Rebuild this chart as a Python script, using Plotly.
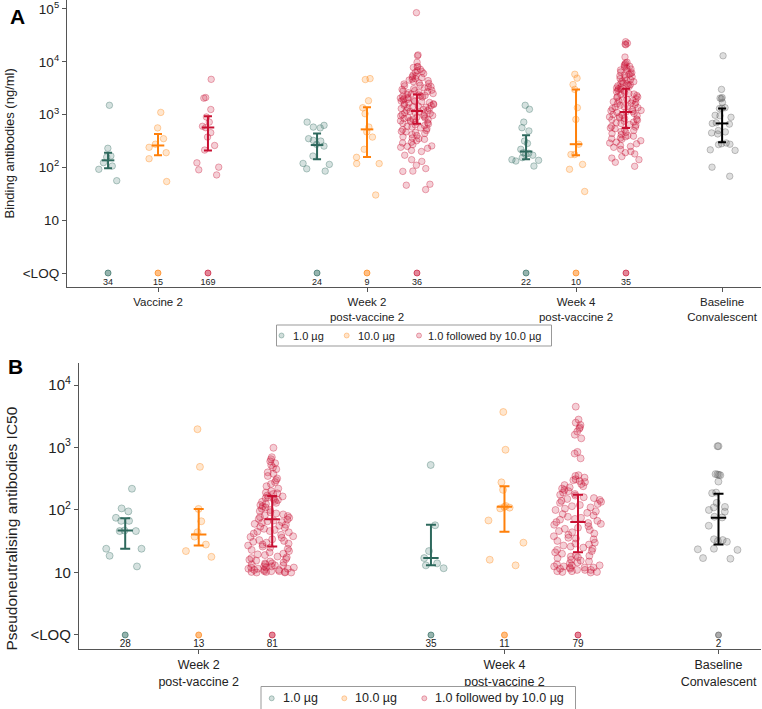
import plotly.graph_objects as go

FONT = "Liberation Sans, Arial, Helvetica, sans-serif"

# ---------------- labels ----------------
group_names = ["1.0 µg", "10.0 µg", "1.0 followed by 10.0 µg"]
a_tick_labels = ["Vaccine 2", "Week 2<br>post-vaccine 2", "Week 4<br>post-vaccine 2", "Baseline<br>Convalescent"]
b_tick_labels = ["Week 2<br>post-vaccine 2", "Week 4<br>post-vaccine 2", "Baseline<br>Convalescent"]
a_y_ticktext = ["<LOQ", "10", "10<sup>2</sup>", "10<sup>3</sup>", "10<sup>4</sup>", "10<sup>5</sup>"]
b_y_ticktext = ["<LOQ", "10", "10<sup>2</sup>", "10<sup>3</sup>", "10<sup>4</sup>"]
a_y_tickvals = [1, 10, 100, 1000, 10000, 100000]
b_y_tickvals = [1, 10, 100, 1000, 10000]

# ---------------- Panel A: binding antibodies (ng/ml) ----------------
a_v2_low = [1500, 230, 165, 157, 123, 106, 92, 56]
a_v2_high = [1100, 560, 350, 275, 240, 190, 146, 54]
a_v2_boost = [4650, 2100, 2050, 1250, 900, 720, 600, 565, 455, 375, 260, 213, 122, 101, 90, 72]

a_w2_low = [720, 625, 580, 560, 350, 325, 315, 273, 253, 164, 119, 114, 94, 85]
a_w2_high = [4800, 4600, 1830, 1350, 1040, 580, 470, 375, 220, 155, 118, 118, 30]
a_w2_boost = [85000, 13500, 13000, 9800, 8200, 8000, 7800, 7200, 6800, 6500, 6300, 6000, 5600, 5400,
              5200, 5000, 4800, 4700, 4500, 4400, 4200, 4000, 3900, 3800, 3600, 3500, 3400, 3300,
              3200, 3100, 3000, 2900, 2850, 2800, 2700, 2650, 2600, 2500, 2450, 2400, 2350, 2300,
              2250, 2200, 2150, 2100, 2050, 2000, 1950, 1900, 1850, 1800, 1780, 1750, 1700, 1650,
              1600, 1580, 1550, 1500, 1480, 1450, 1400, 1380, 1350, 1300, 1280, 1250, 1200, 1180,
              1150, 1120, 1100, 1080, 1050, 1000, 980, 960, 940, 920, 900, 880, 860, 840, 820, 800,
              780, 760, 740, 720, 700, 680, 660, 640, 620, 600, 580, 560, 540, 520, 500, 480, 470,
              460, 440, 420, 400, 380, 360, 350, 340, 320, 300, 290, 270, 255, 250, 240, 230, 210,
              200, 170, 140, 130, 110, 95, 85, 84, 48, 46, 38]

a_w4_low = [1500, 1260, 720, 565, 490, 315, 285, 220, 190, 185, 175, 170, 153, 140, 136, 132, 106]
a_w4_high = [5800, 4900, 3700, 3000, 1350, 810, 275, 175, 175, 114, 92, 35]
a_w4_boost = [24000, 22500, 21500, 21000, 12300, 9800, 9500, 9000, 8600, 8200, 8000, 7600, 7300,
              7000, 6700, 6400, 6200, 6000, 5800, 5600, 5400, 5200, 5000, 4800, 4600, 4500, 4300,
              4200, 4000, 3900, 3800, 3700, 3600, 3500, 3400, 3300, 3200, 3100, 3000, 2900, 2800,
              2700, 2600, 2500, 2450, 2400, 2300, 2200, 2150, 2100, 2000, 1950, 1900, 1850, 1800,
              1750, 1700, 1650, 1600, 1550, 1500, 1450, 1400, 1380, 1350, 1300, 1250, 1200, 1180,
              1150, 1120, 1100, 1050, 1000, 980, 950, 920, 900, 870, 850, 820, 800, 780, 750, 720,
              700, 680, 650, 630, 600, 580, 560, 540, 520, 500, 480, 460, 440, 420, 400, 390, 380,
              360, 350, 340, 320, 300, 290, 280, 260, 250, 240, 220, 200, 190, 180, 160, 150, 140,
              125, 105]

a_baseline = [13000, 3000, 2100, 2050, 2000, 1700, 1350, 1320, 1300, 970, 950, 890, 700, 680, 660,
              500, 470, 450, 430, 290, 280, 275, 270, 215, 210, 101, 68]

# summary bars (median and interval) per group across Vaccine 2, Week 2, Week 4
a_low_med = [136, 265, 200]
a_low_lo = [96, 142, 142]
a_low_hi = [190, 440, 405]
a_high_med = [260, 525, 275]
a_high_lo = [170, 157, 170]
a_high_hi = [430, 1370, 3000]
a_boost_med = [570, 1170, 1120]
a_boost_lo = [210, 670, 560]
a_boost_hi = [930, 2400, 3100]
a_base_med = [680]
a_base_lo = [300]
a_base_hi = [1300]

# number of samples below the limit of quantification
a_loq_low = [34, 24, 22]
a_loq_high = [15, 9, 10]
a_loq_boost = [169, 36, 35]

# ---------------- Panel B: pseudoneutralising antibodies IC50 ----------------
b_w2_low = [219, 106, 95, 75, 67, 67, 47, 46, 46, 24, 24, 18.5, 12.5]
b_w2_high = [1960, 490, 104, 66, 44, 37.5, 28, 22, 17.8]
b_w2_boost = [990, 700, 650, 600, 560, 520, 480, 450, 400, 380, 350, 320, 300, 280, 260, 240, 220,
              200, 190, 185, 180, 170, 165, 160, 155, 150, 145, 140, 135, 130, 125, 120, 115, 110,
              105, 100, 96, 92, 88, 85, 82, 80, 77, 75, 72, 70, 68, 66, 64, 62, 60, 58, 56, 54, 52,
              50, 48, 46, 45, 44, 42, 40, 38, 37, 36, 34, 33, 32, 31, 30, 29, 28, 27, 26, 25, 24,
              23, 22, 21, 20, 19.5, 19, 18, 17.5, 17, 16.5, 16, 15.5, 15, 14.5, 14, 14, 13.5, 13.5,
              13, 13, 12.5, 12.5, 12, 12, 12, 11.5, 11.5, 11.5, 11, 11, 11, 10.5, 10.5, 10.5, 10.2,
              10.2, 10.2, 10, 10, 10]

b_w4_low = [525, 57, 22, 17, 14, 13, 11.7]
b_w4_high = [3700, 920, 277, 210, 116, 112, 109, 106, 68, 30, 16, 13]
b_w4_boost = [4500, 2800, 2500, 2300, 2100, 2000, 1800, 1600, 1400, 850, 800, 670, 360, 350, 330,
              310, 300, 290, 280, 260, 250, 240, 230, 220, 210, 200, 190, 180, 175, 170, 160, 155,
              150, 145, 140, 135, 130, 125, 120, 115, 110, 105, 100, 95, 90, 86, 82, 78, 75, 72,
              70, 67, 64, 62, 60, 58, 55, 52, 50, 48, 46, 44, 42, 40, 38, 36, 35, 34, 32, 30, 29,
              28, 27, 26, 25, 24, 23, 22, 21, 20, 19, 18.5, 18, 17.5, 17, 16, 15.5, 15, 14.5, 14,
              13.5, 13, 13, 12.5, 12.5, 12, 12, 12, 11.5, 11.5, 11, 11, 11, 10.5, 10.5, 10.2, 10.2,
              10]

b_baseline = [1050, 1050, 375, 370, 365, 360, 285, 190, 186, 130, 112, 110, 100, 94, 78, 76, 56,
              34, 33, 32, 31, 24, 23.5, 23, 17, 16.6]

b_low_med = [47, 17]
b_low_lo = [24, 13]
b_low_hi = [74, 58]
b_high_med = [40.5, 113]
b_high_lo = [27, 45]
b_high_hi = [104, 240]
b_boost_med = [71, 64]
b_boost_lo = [26, 21]
b_boost_hi = [168, 175]
b_base_med = [75]
b_base_lo = [28]
b_base_hi = [182]

b_loq_low = [28, 35]
b_loq_high = [13, 11]
b_loq_boost = [81, 79]
b_loq_base = [2]

# ---------------- styles / layout geometry ----------------
W, H = 762, 709
C_LOW = (46, 105, 93)
C_HIGH = (255, 128, 10)
C_BOOST = (200, 16, 50)
C_BASE = (0, 0, 0)
C_BASE_PT = (90, 90, 90)


def rgba(c, a):
    return "rgba(%d,%d,%d,%.2f)" % (c[0], c[1], c[2], a)


# Panel A positions (axis units)
A_CENTERS = [1, 2, 3]
A_BASE = 3.699
A_OFF = 0.239
A_WIDTH = 0.16
# Panel B positions
B_CENTERS = [1, 2]
B_BASE = 2.70
B_OFF = 0.2404
B_WIDTH = 0.16

fig = go.Figure()


def add_points(vals, xpos, col, xa, ya, width, size):
    fig.add_trace(go.Box(
        y=vals, x=[xpos] * len(vals), xaxis=xa, yaxis=ya,
        boxpoints="all", jitter=1, pointpos=0, width=width,
        fillcolor="rgba(0,0,0,0)", line=dict(width=0, color="rgba(0,0,0,0)"),
        marker=dict(size=size, color=rgba(col, 0.2), line=dict(width=1, color=rgba(col, 0.34))),
        showlegend=False, hoverinfo="y"))


def add_bars(xs, med, lo, hi, col, xa, ya, capw, msize):
    fig.add_trace(go.Scatter(
        x=xs, y=med, xaxis=xa, yaxis=ya, mode="markers",
        marker=dict(symbol="line-ew", size=msize, color=rgba(col, 1), line=dict(width=2, color=rgba(col, 1))),
        error_y=dict(type="data", symmetric=False,
                     array=[h - m for h, m in zip(hi, med)],
                     arrayminus=[m - l for m, l in zip(med, lo)],
                     color=rgba(col, 1), thickness=2, width=capw),
        showlegend=False, hoverinfo="skip"))


def add_loq(xs, counts, col, xa, ya, fsize):
    fig.add_trace(go.Scatter(
        x=xs, y=[1] * len(xs), xaxis=xa, yaxis=ya, mode="markers+text",
        text=[str(c) for c in counts], textposition="bottom center",
        textfont=dict(size=fsize, color="#222", family=FONT),
        marker=dict(size=6, color=rgba(col, 0.5), line=dict(width=1, color=rgba(col, 0.65))),
        showlegend=False, hoverinfo="skip"))


# ---- Panel A ----
a_low_x = [c - A_OFF for c in A_CENTERS]
a_high_x = list(A_CENTERS)
a_boost_x = [c + A_OFF for c in A_CENTERS]
for vals, x in zip([a_v2_low, a_w2_low, a_w4_low], a_low_x):
    add_points(vals, x, C_LOW, "x", "y", A_WIDTH, 6.5)
for vals, x in zip([a_v2_high, a_w2_high, a_w4_high], a_high_x):
    add_points(vals, x, C_HIGH, "x", "y", A_WIDTH, 6.5)
for vals, x in zip([a_v2_boost, a_w2_boost, a_w4_boost], a_boost_x):
    add_points(vals, x, C_BOOST, "x", "y", A_WIDTH, 6.5)
add_points(a_baseline, A_BASE, C_BASE_PT, "x", "y", A_WIDTH, 6.5)

add_bars(a_low_x, a_low_med, a_low_lo, a_low_hi, C_LOW, "x", "y", 4, 9)
add_bars(a_high_x, a_high_med, a_high_lo, a_high_hi, C_HIGH, "x", "y", 4, 9)
add_bars(a_boost_x, a_boost_med, a_boost_lo, a_boost_hi, C_BOOST, "x", "y", 4, 9)
add_bars([A_BASE], a_base_med, a_base_lo, a_base_hi, C_BASE, "x", "y", 4, 9)

add_loq(a_low_x, a_loq_low, C_LOW, "x", "y", 9)
add_loq(a_high_x, a_loq_high, C_HIGH, "x", "y", 9)
add_loq(a_boost_x, a_loq_boost, C_BOOST, "x", "y", 9)

# ---- Panel B ----
b_low_x = [c - B_OFF for c in B_CENTERS]
b_high_x = list(B_CENTERS)
b_boost_x = [c + B_OFF for c in B_CENTERS]
for vals, x in zip([b_w2_low, b_w4_low], b_low_x):
    add_points(vals, x, C_LOW, "x2", "y2", B_WIDTH, 7)
for vals, x in zip([b_w2_high, b_w4_high], b_high_x):
    add_points(vals, x, C_HIGH, "x2", "y2", B_WIDTH, 7)
for vals, x in zip([b_w2_boost, b_w4_boost], b_boost_x):
    add_points(vals, x, C_BOOST, "x2", "y2", B_WIDTH, 7)
add_points(b_baseline, B_BASE, C_BASE_PT, "x2", "y2", B_WIDTH, 7)

add_bars(b_low_x, b_low_med, b_low_lo, b_low_hi, C_LOW, "x2", "y2", 5, 11)
add_bars(b_high_x, b_high_med, b_high_lo, b_high_hi, C_HIGH, "x2", "y2", 5, 11)
add_bars(b_boost_x, b_boost_med, b_boost_lo, b_boost_hi, C_BOOST, "x2", "y2", 5, 11)
add_bars([B_BASE], b_base_med, b_base_lo, b_base_hi, C_BASE, "x2", "y2", 5, 11)

add_loq(b_low_x, b_loq_low, C_LOW, "x2", "y2", 10)
add_loq(b_high_x, b_loq_high, C_HIGH, "x2", "y2", 10)
add_loq(b_boost_x, b_loq_boost, C_BOOST, "x2", "y2", 10)
add_loq([B_BASE], b_loq_base, C_BASE_PT, "x2", "y2", 10)

# ---- legends (drawn as boxed keys, pixel geometry) ----
shapes = []
annotations = []


def add_key(box, circle_x, text_x, yc, fsize, dia):
    x0, x1, y0, y1 = box
    shapes.append(dict(type="rect", xref="paper", yref="paper", x0=x0 / W, x1=x1 / W,
                       y0=1 - y1 / H, y1=1 - y0 / H, line=dict(color="#999", width=1),
                       fillcolor="white", layer="above"))
    for name, col, cx, tx in zip(group_names, [C_LOW, C_HIGH, C_BOOST], circle_x, text_x):
        r = dia / 2
        shapes.append(dict(type="circle", xref="paper", yref="paper",
                           x0=(cx - r) / W, x1=(cx + r) / W, y0=1 - (yc + r) / H, y1=1 - (yc - r) / H,
                           fillcolor=rgba(col, 0.22), line=dict(color=rgba(col, 0.35), width=1),
                           layer="above"))
        annotations.append(dict(text=name, x=tx / W, y=1 - yc / H, xref="paper", yref="paper",
                                showarrow=False, xanchor="left", yanchor="middle",
                                font=dict(size=fsize, color="#222"), borderpad=0))


add_key((276.5, 551.5, 325, 346), [281.5, 346.7, 419], [292, 357, 427], 335.5, 11, 5)
add_key((261, 575.5, 686.5, 712), [271.7, 344.3, 424.3], [282, 354, 434], 698.3, 12.5, 5)

annotations += [
    dict(text="<b>A</b>", x=17.5 / W, y=1 - 17 / H, xref="paper", yref="paper", showarrow=False,
         xanchor="center", yanchor="middle", font=dict(size=21, color="black")),
    dict(text="<b>B</b>", x=15 / W, y=1 - 366 / H, xref="paper", yref="paper", showarrow=False,
         xanchor="center", yanchor="middle", font=dict(size=21, color="black")),
    dict(text="Binding antibodies (ng/ml)", x=8.5 / W, y=1 - 144 / H, xref="paper", yref="paper",
         showarrow=False, textangle=-90, xanchor="center", yanchor="middle", font=dict(size=13)),
    dict(text="Pseudoneutralising antibodies IC50", x=10.5 / W, y=1 - 529 / H, xref="paper",
         yref="paper", showarrow=False, textangle=-90, xanchor="center", yanchor="middle",
         font=dict(size=15.5)),
]

axis_common = dict(showline=True, linecolor="#555", linewidth=1.3, showgrid=False, zeroline=False,
                   ticks="outside", ticklen=4, tickcolor="#555", tickwidth=1, automargin=False,
                   ticklabeloverflow="allow")

fig.update_layout(
    width=W, height=H, margin=dict(l=0, r=0, t=0, b=0),
    paper_bgcolor="white", plot_bgcolor="white",
    font=dict(family=FONT, color="#222"),
    boxmode="overlay", showlegend=False,
    xaxis=dict(domain=[67 / W, 761 / W], range=[0.5646, 3.885], anchor="y",
               tickmode="array", tickvals=A_CENTERS + [A_BASE], ticktext=a_tick_labels,
               tickfont=dict(size=11.5), **axis_common),
    yaxis=dict(domain=[1 - 287 / H, 1], type="log", range=[-0.265, 5.17], anchor="x",
               tickmode="array", tickvals=a_y_tickvals, ticktext=a_y_ticktext,
               tickfont=dict(size=13.5), **axis_common),
    xaxis2=dict(domain=[79 / W, 761 / W], range=[0.6085, 2.839], anchor="y2",
                tickmode="array", tickvals=B_CENTERS + [B_BASE], ticktext=b_tick_labels,
                tickfont=dict(size=12.5), **axis_common),
    yaxis2=dict(domain=[1 - 649.3 / H, 1 - 363 / H], type="log", range=[-0.229, 4.352], anchor="x2",
                tickmode="array", tickvals=b_y_tickvals, ticktext=b_y_ticktext,
                tickfont=dict(size=15), **axis_common),
    shapes=shapes,
    annotations=annotations,
)

fig.write_html("out.html", config={"displayModeBar": False},
               post_script="document.body.style.margin='0';document.body.style.overflow='hidden';")
